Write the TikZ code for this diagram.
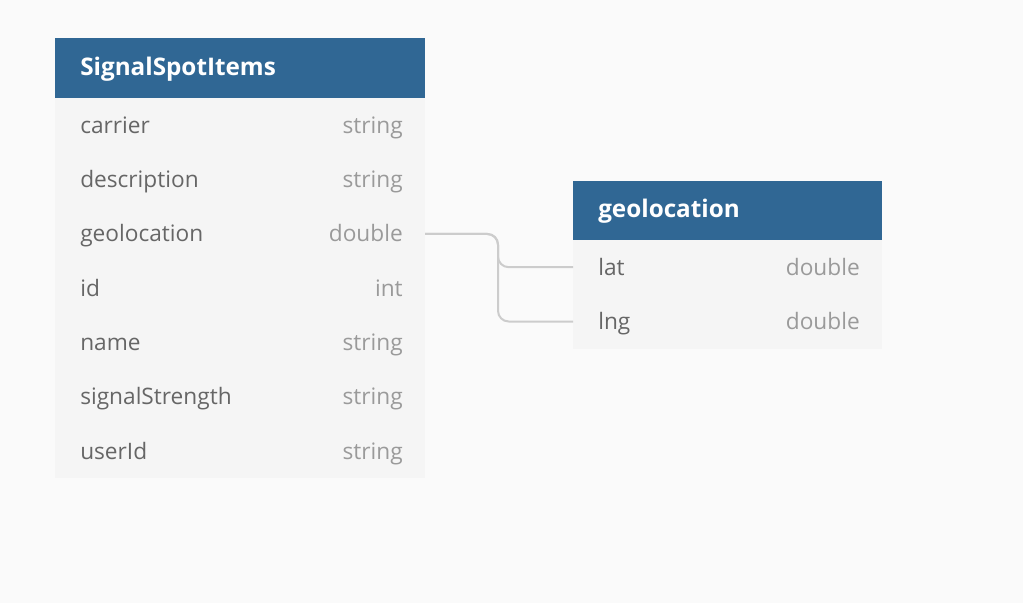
\documentclass[tikz,border=0pt]{standalone}
\usepackage{fontspec}
\setmainfont{Open Sans}
\usepackage{tikz}
\usetikzlibrary{positioning}
\definecolor{headblue}{HTML}{306794}
\definecolor{rowgray}{HTML}{F5F5F5}
\definecolor{pagegray}{HTML}{FAFAFA}
\definecolor{namegray}{HTML}{666666}
\definecolor{typegray}{HTML}{9A9A9A}
\definecolor{linkgray}{HTML}{CCCCCC}
\tikzset{%
  % Specifications for style of nodes:
      tablebase/.style = {rectangle, inner sep=0pt, outer sep=0pt},
       head/.style = {tablebase, fill=headblue, minimum height=45pt},
        row/.style = {tablebase, fill=rowgray, minimum height=40.75pt},
  headtext/.style = {inner sep=0pt, anchor=base west, text=white, font=\fontsize{18.2}{22}\selectfont\bfseries},
  fieldname/.style = {inner sep=0pt, anchor=base west, text=namegray, font=\fontsize{17}{20}\selectfont},
  fieldtype/.style = {inner sep=0pt, anchor=base east, text=typegray, font=\fontsize{17}{20}\selectfont},
       link/.style = {draw=linkgray, line width=1.5pt, rounded corners=8pt},
}
\begin{document}
\begin{tikzpicture}[x=0.75pt, y=-0.75pt, node distance=0pt]
  \fill[pagegray] (0,0) rectangle (1023,603);
  \useasboundingbox (0,0) rectangle (1023,603);

  % Table SignalSpotItems
  \node (sp-head) [head, minimum width=277.5pt, anchor=north west] at (55,38) {};
  \node (sp-carrier)     [row, minimum width=277.5pt, below=of sp-head] {};
  \node (sp-description) [row, minimum width=277.5pt, below=of sp-carrier] {};
  \node (sp-geolocation) [row, minimum width=277.5pt, below=of sp-description] {};
  \node (sp-id)          [row, minimum width=277.5pt, below=of sp-geolocation] {};
  \node (sp-name)        [row, minimum width=277.5pt, below=of sp-id] {};
  \node (sp-signal)      [row, minimum width=277.5pt, below=of sp-name] {};
  \node (sp-userid)      [row, minimum width=277.5pt, below=of sp-signal] {};

  \node (sp-title) [headtext] at ([xshift=18.75pt, yshift=-5.4pt]sp-head.west) {SignalSpotItems};
  \foreach \r/\n/\t in {carrier/carrier/string, description/description/string,
      geolocation/geolocation/double, id/id/int, name/name/string,
      signal/signalStrength/string, userid/userId/string} {
    \node (sp-\r-name) [fieldname] at ([xshift=18.75pt, yshift=-6pt]sp-\r.west) {\n};
    \node (sp-\r-type) [fieldtype] at ([xshift=-16.5pt, yshift=-6pt]sp-\r.east) {\t};
  }

  % Table geolocation
  \node (geo-head) [head, minimum width=231.75pt, minimum height=44.25pt, anchor=north west] at (573,181) {};
  \node (geo-lat) [row, minimum width=231.75pt, below=of geo-head] {};
  \node (geo-lng) [row, minimum width=231.75pt, below=of geo-lat] {};

  \node (geo-title) [headtext] at ([xshift=18.75pt, yshift=-5.6pt]geo-head.west) {geolocation};
  \foreach \r in {lat, lng} {
    \node (geo-\r-name) [fieldname] at ([xshift=18.75pt, yshift=-6pt]geo-\r.west) {\r};
    \node (geo-\r-type) [fieldtype] at ([xshift=-16.5pt, yshift=-6pt]geo-\r.east) {double};
  }

  % Connectors between the two tables
  \coordinate (bend) at (498,234);
  \draw[link] (sp-geolocation.east) -- (bend) |- (geo-lat.west);
  \draw[link] (sp-geolocation.east) -- (bend) |- (geo-lng.west);
\end{tikzpicture}
\end{document}
